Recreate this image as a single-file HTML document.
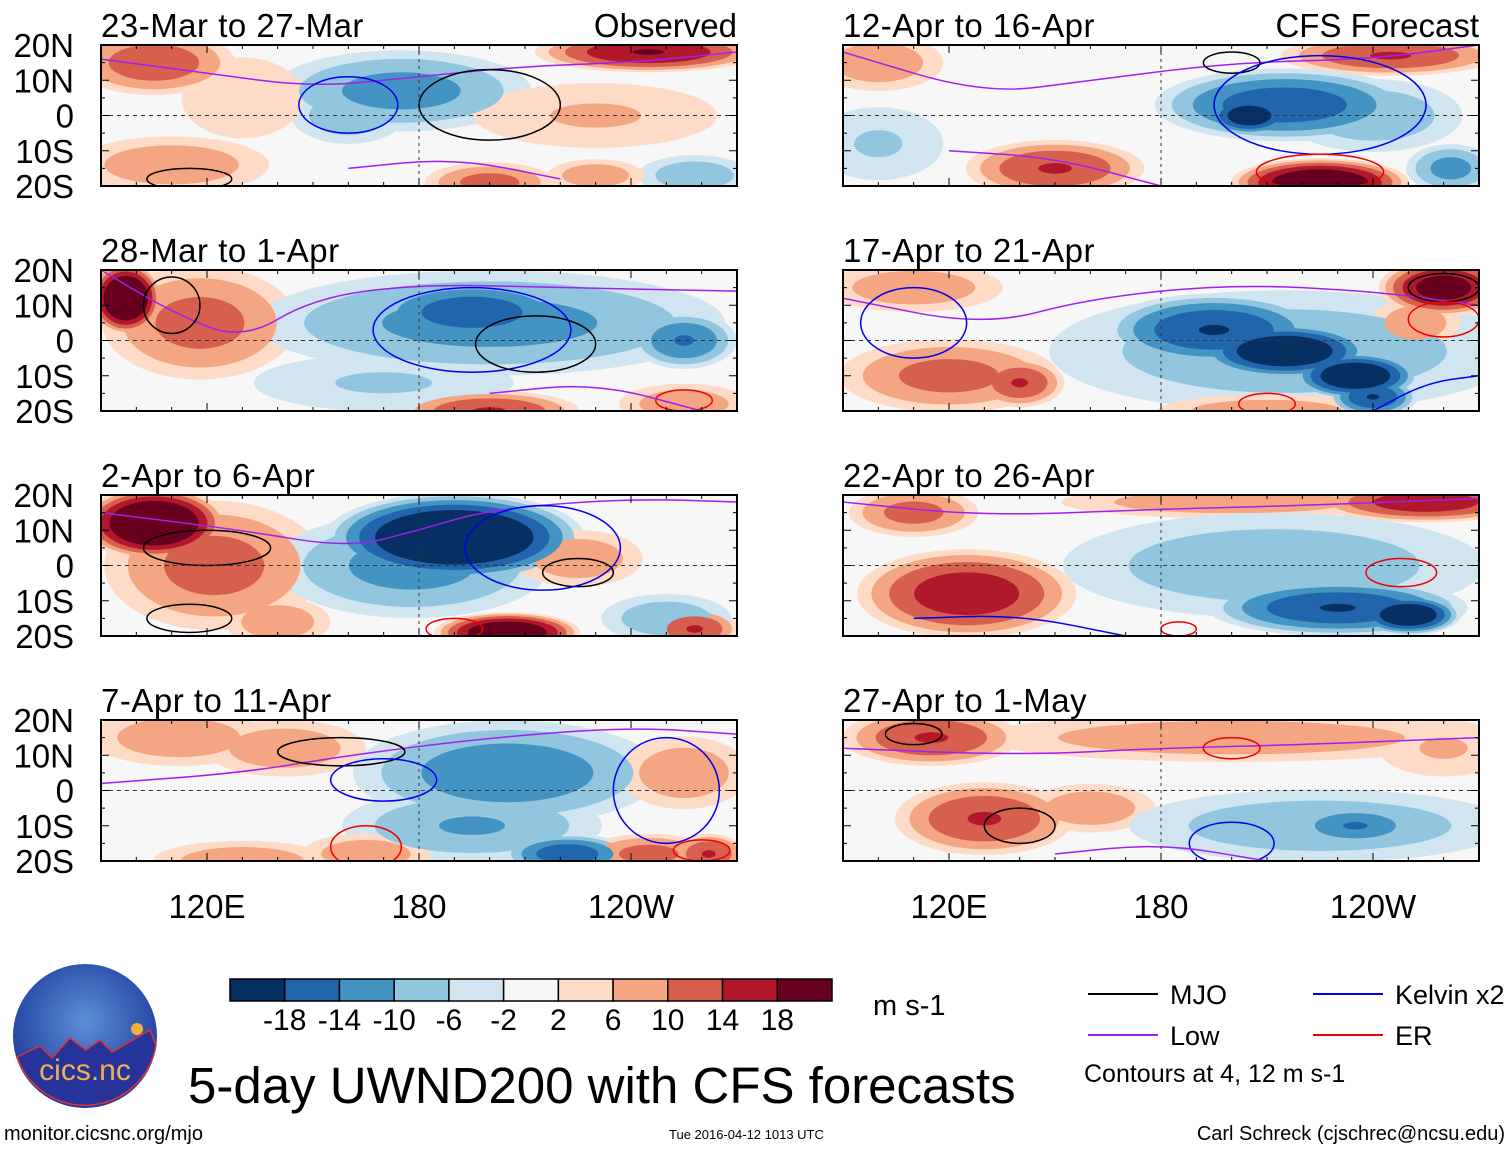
<!DOCTYPE html>
<html><head><meta charset="utf-8"><style>
html,body{margin:0;padding:0;background:#fff;}
svg{display:block;font-family:"Liberation Sans",sans-serif;}
</style></head><body>
<svg id="fig" width="1510" height="1149" viewBox="0 0 1510 1149" xmlns="http://www.w3.org/2000/svg">
<defs>
<radialGradient id="lg" cx="50%" cy="40%" r="60%"><stop offset="0" stop-color="#5a8fd8"/><stop offset="1" stop-color="#1d3a9a"/></radialGradient>
</defs>
<g id="panels"></g>
<g id="legend"></g>
</svg>
<script>
// Colorbar data
const levels = [-18,-14,-10,-6,-2,2,6,10,14,18];
const colors = ["#053061","#2166ac","#4393c3","#92c5de","#d1e5f0","#f7f7f7","#fddbc7","#f4a582","#d6604d","#b2182b","#67001f"];
const lonTicks = ["120E","180","120W"];
const lonTickVals = [120,180,240];
const latTicks = ["20N","10N","0","10S","20S"];
const latTickVals = [20,10,0,-10,-20];
const titles = ["23-Mar to 27-Mar","28-Mar to 1-Apr","2-Apr to 6-Apr","7-Apr to 11-Apr","12-Apr to 16-Apr","17-Apr to 21-Apr","22-Apr to 26-Apr","27-Apr to 1-May"];
// Wind anomaly blobs per panel: [lon, lat, value m/s, halfwidth deg lon, halfwidth deg lat]
const blobsL1 = [[105,15,10,20,8],[245,18,14,28,5],[175,7,-9,32,10],[160,0,-7,14,7],[110,-14,7,24,7],[200,-19,9,16,5],[230,0,5,30,8],[258,-17,-7,14,5],[230,-17,7,12,4],[130,5,4,15,10]];
const blobsL2 = [[97,12,20,9,9],[118,5,9,24,14],[200,5,-9,58,13],[195,8,-13,26,8],[255,0,-11,13,7],[200,-20,11,22,5],[255,-18,7,16,5],[170,-12,-5,32,7]];
const blobsL3 = [[105,12,20,18,9],[122,0,9,27,16],[190,8,-20,32,11],[178,0,-9,34,13],[205,-19,18,18,5],[258,-18,11,11,5],[225,2,7,16,7],[250,-15,-7,16,6],[140,-16,7,13,6]];
const blobsL4 = [[112,15,7,22,7],[142,12,7,20,7],[205,5,-10,38,13],[195,-10,-8,32,9],[222,-18,-13,16,5],[245,-18,9,16,5],[130,-20,7,22,5],[165,-18,7,16,5],[255,5,7,16,9],[262,-18,11,9,5]];
const blobsR1 = [[100,15,7,16,7],[245,17,11,27,5],[215,3,-13,32,9],[205,0,-17,11,5],[240,0,-7,22,9],[225,-19,18,22,6],[150,-15,11,22,7],[262,-15,-9,11,6],[100,-8,-5,16,9]];
const blobsR2 = [[215,-3,-7,58,15],[195,3,-14,27,9],[215,-3,-18,22,7],[235,-10,-18,16,6],[240,-16,-14,11,5],[260,15,16,16,7],[120,-10,9,27,9],[140,-12,11,11,6],[210,-20,7,27,4],[110,15,7,22,6],[252,5,7,11,6]];
const blobsR3 = [[255,18,13,27,5],[200,18,7,42,4],[125,-8,13,27,11],[110,15,9,16,6],[212,0,-7,52,13],[230,-12,-14,32,7],[250,-14,-18,13,5]];
const blobsR4 = [[115,15,11,22,7],[200,15,7,62,6],[130,-8,11,22,9],[160,-5,7,16,6],[225,-10,-7,47,9],[235,-10,-11,16,5],[260,12,5,16,7]];
const panelBlobs = [blobsL1,blobsL2,blobsL3,blobsL4,blobsR1,blobsR2,blobsR3,blobsR4];
// Contour lines per panel
const linesL1 = [["low",[[90,16],[120,12],[150,8],[180,11],[210,14],[240,15],[270,18]]],["low",[[160,-15],[190,-12],[220,-18]]],["mjoE",[200,3,20,10]],["kelvinE",[160,3,14,8]],["mjoE",[115,-18,12,3]]];
const linesL2 = [["low",[[90,20],[110,8],[130,0],[150,12],[180,16],[220,15],[270,14]]],["kelvinE",[195,3,28,12]],["mjoE",[213,-1,17,8]],["mjoE",[110,10,8,8]],["erE",[255,-17,8,3]],["low",[[200,-15],[230,-12],[260,-20]]]];
const linesL3 = [["low",[[90,15],[130,10],[160,5],[180,10],[200,16],[240,19],[270,18]]],["mjoE",[120,5,18,5]],["mjoE",[225,-2,10,4]],["mjoE",[115,-15,12,4]],["kelvinE",[215,5,22,12]],["erE",[190,-18,8,3]]];
const linesL4 = [["low",[[90,2],[130,5],[160,10],[200,15],[240,18],[270,16]]],["mjoE",[158,11,18,4]],["kelvinE",[170,3,15,6]],["kelvinE",[250,0,15,15]],["erE",[165,-16,10,6]],["erE",[260,-17,8,3]]];
const linesR1 = [["low",[[90,18],[130,6],[160,10],[200,15],[240,16],[270,20]]],["mjoE",[200,15,8,3]],["kelvinE",[225,3,30,14]],["erE",[225,-16,18,5]],["low",[[120,-10],[150,-12],[180,-20]]]];
const linesR2 = [["low",[[90,12],[130,4],[160,12],[200,16],[240,14],[270,10]]],["mjoE",[260,15,10,4]],["kelvinE",[110,5,15,10]],["erE",[210,-18,8,3]],["erE",[260,6,10,5]],["kelvin",[[240,-20],[255,-12],[270,-10]]]];
const linesR3 = [["low",[[90,18],[130,14],[180,16],[220,17],[270,19]]],["erE",[248,-2,10,4]],["kelvin",[[110,-15],[140,-14],[170,-20]]],["erE",[185,-18,5,2]]];
const linesR4 = [["low",[[90,12],[140,10],[180,12],[220,13],[270,15]]],["mjoE",[110,16,8,3]],["mjoE",[140,-10,10,5]],["erE",[200,12,8,3]],["kelvinE",[200,-15,12,6]],["low",[[150,-18],[180,-15],[210,-20]]]];
const panelLines = [linesL1,linesL2,linesL3,linesL4,linesR1,linesR2,linesR3,linesR4];

const NS="http://www.w3.org/2000/svg";
function mk(tag,attrs,parent){const e=document.createElementNS(NS,tag);for(const k in attrs)e.setAttribute(k,attrs[k]);parent.appendChild(e);return e;}
const PW=636, PH=141;
const lefts=[101,101,101,101,843,843,843,843];
const tops=[45,270,495,720,45,270,495,720];
const lineCol={mjo:"#000",kelvin:"#0000ee",low:"#a020f0",er:"#ee0000"};
function colorFor(v){let i=0;while(i<levels.length&&v>levels[i])i++;return colors[i];}
const root=document.getElementById('panels');
panelBlobs.forEach((blobs,p)=>{
  const X0=lefts[p],Y0=tops[p];
  const xs=lon=>X0+(lon-90)*PW/180, ys=lat=>Y0+(20-lat)*PH/40;
  const g=mk('g',{},root);
  
  
  const cp=mk('clipPath',{id:'cp'+p},g);
  mk('rect',{x:X0,y:Y0,width:PW,height:PH},cp);
  const field=mk('g',{'clip-path':'url(#cp'+p+')'},g);
  mk('rect',{x:X0,y:Y0,width:PW,height:PH,fill:"#f7f7f7"},field);
  const th=[2,6,10,14,18];
  th.forEach(t=>{
    blobs.forEach(b=>{
      const a=Math.abs(b[2])*1.3; if(a<=t)return;
      const s=Math.pow((a-t)/(a-2+0.01),0.45)*1.15;
      const e=mk('ellipse',{cx:xs(b[0]),cy:ys(b[1]),rx:b[3]*PW/180*s,ry:b[4]*PH/40*s,fill:colorFor(b[2]>0?t+1:-t-1)},field);
      
      
    });
  });
  panelLines[p].forEach(l=>{
    const type=l[0].replace('E','');
    if(l[0].endsWith('E')){
      const d=l[1];
      const e=mk('ellipse',{cx:xs(d[0]),cy:ys(d[1]),rx:d[2]*PW/180,ry:d[3]*PH/40,fill:"none",stroke:lineCol[type],'stroke-width':1.5},field);
      
      
    } else {
      const pts=l[1].map(q=>[xs(q[0]),ys(q[1])]);
      let d="M"+pts[0].join(",");
      for(let i=1;i<pts.length;i++){const m=[(pts[i-1][0]+pts[i][0])/2,(pts[i-1][1]+pts[i][1])/2];d+=" Q"+pts[i-1].join(",")+" "+m.join(",");}
      d+=" L"+pts[pts.length-1].join(",");
      const e=mk('path',{d:d,fill:"none",stroke:lineCol[type],'stroke-width':1.5},field);
      
      
    }
  });
  mk('line',{x1:X0,x2:X0+PW,y1:ys(0),y2:ys(0),stroke:"#333",'stroke-dasharray':"4,4",'stroke-width':1},g);
  mk('line',{x1:xs(180),x2:xs(180),y1:Y0,y2:Y0+PH,stroke:"#333",'stroke-dasharray':"3,4",'stroke-width':1},g);
  const fr=mk('rect',{x:X0,y:Y0,width:PW,height:PH,fill:"none",stroke:"#000",'stroke-width':2},g);
  
  
  for(let lon=90;lon<=270;lon+=10){const L=lonTickVals.includes(lon)?8:4;
    mk('line',{x1:xs(lon),x2:xs(lon),y1:Y0,y2:Y0+L,stroke:"#000"},g);
    mk('line',{x1:xs(lon),x2:xs(lon),y1:Y0+PH,y2:Y0+PH-L,stroke:"#000"},g);}
  for(let lat=-20;lat<=20;lat+=5){const L=lat%10===0?8:4;
    mk('line',{x1:X0,x2:X0+L,y1:ys(lat),y2:ys(lat),stroke:"#000"},g);
    mk('line',{x1:X0+PW,x2:X0+PW-L,y1:ys(lat),y2:ys(lat),stroke:"#000"},g);}
  const t=mk('text',{x:X0,y:Y0-8,'font-size':33,'letter-spacing':0.5},g);t.textContent=titles[p];
  
  
  if(p<4){latTicks.forEach((s,i)=>{const tt=mk('text',{x:74,y:ys(latTickVals[i])+12,'font-size':33,'text-anchor':'end'},g);tt.textContent=s;
    
    });}
  if(p===3||p===7){lonTicks.forEach((s,i)=>{const tt=mk('text',{x:xs(lonTickVals[i]),y:918,'font-size':33,'text-anchor':'middle'},g);tt.textContent=s;
    
    });}
});
function txt(x,y,s,size,name,anchor){const t=mk('text',{x:x,y:y,'font-size':size,'text-anchor':anchor||'start'},document.getElementById('legend'));t.textContent=s;return t;}
txt(737,37,"Observed",33,"observed-label","end");
txt(1479,37,"CFS Forecast",33,"forecast-label","end");
const lg=document.getElementById('legend');
const cw=602/11;
colors.forEach((c,i)=>{const r=mk('rect',{x:230+i*cw,y:979,width:cw,height:22,fill:c,stroke:"#000",'stroke-width':1.5},lg);
  
  });
levels.forEach((v,i)=>{txt(230+(i+1)*cw,1030,String(v),30,"colorbar-label","middle");});
txt(873,1015,"m s-1",29,"units-label");
txt(188,1103,"5-day UWND200 with CFS forecasts",51,"main-title");
[["MJO","#000",1088,994],["Low","#a020f0",1088,1035],["Kelvin x2","#0000ee",1313,994],["ER","#ee0000",1313,1035]].forEach(e=>{
  const l=mk('line',{x1:e[2],x2:e[2]+70,y1:e[3],y2:e[3],stroke:e[1],'stroke-width':2},lg);
  
  
  txt(e[2]+82,e[3]+10,e[0],27,"legend-entry");
});
txt(1084,1082,"Contours at 4, 12 m s-1",25,"contour-note");
txt(4,1140,"monitor.cicsnc.org/mjo",20,"url-label");
txt(669,1139,"Tue 2016-04-12 1013 UTC",13,"timestamp");
txt(1505,1140,"Carl Schreck (cjschrec@ncsu.edu)",20,"author","end");
const logo=mk('circle',{cx:85,cy:1036,r:72,fill:"url(#lg)"},lg);


mk('path',{d:"M17,1057 L40,1046 L52,1058 L70,1038 L86,1050 L100,1040 L112,1052 L150,1030 L156,1045 A72,72 0 0 1 17,1057 Z",fill:"#26339a",stroke:"#e03030",'stroke-width':1.5},lg);
mk('circle',{cx:137,cy:1029,r:6,fill:"#f0b040"},lg);
const lt=txt(85,1080,"cics.nc",30,"logo-text","middle");lt.setAttribute('fill',"#f0b050");
</script>
</body></html>
